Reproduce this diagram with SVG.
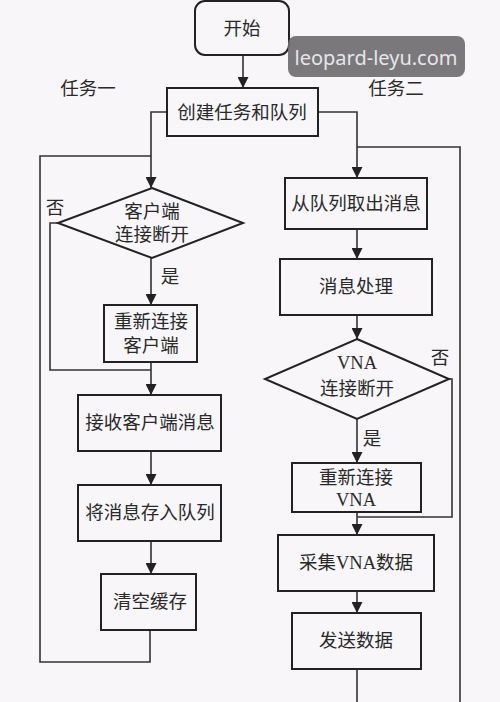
<svg xmlns="http://www.w3.org/2000/svg" width="500" height="702" viewBox="0 0 500 702">
<style>
.bx{fill:none;stroke:#222;stroke-width:2}
.t{font-family:"Liberation Serif","Noto Sans CJK SC",serif;font-size:18.5px;fill:#2a2a2a;text-anchor:middle}
.c{fill:none;stroke:#333;stroke-width:1.6}
</style>
<defs>
<marker id="ar" viewBox="0 0 10 10" refX="10" refY="5" markerWidth="11" markerHeight="11" markerUnits="userSpaceOnUse" orient="auto">
<path d="M0,0 L10,5 L0,10 z" fill="#222"/>
</marker>
</defs>
<rect width="500" height="702" fill="#f8f6f9"/>
<g id="connectors">
<path class="c" d="M243,55 V88" marker-end="url(#ar)"/>
<path class="c" d="M167,112 H151 V188" marker-end="url(#ar)"/>
<path class="c" d="M318,112 H357 V178" marker-end="url(#ar)"/>
<path class="c" d="M151,258 V305" marker-end="url(#ar)"/>
<path class="c" d="M58,223 H50 V370 H151"/>
<path class="c" d="M151,362 V395" marker-end="url(#ar)"/>
<path class="c" d="M151,451 V485" marker-end="url(#ar)"/>
<path class="c" d="M151,541 V574" marker-end="url(#ar)"/>
<path class="c" d="M150,630 V662 H40 V156 H151"/>
<path class="c" d="M357,229 V259" marker-end="url(#ar)"/>
<path class="c" d="M357,315 V339" marker-end="url(#ar)"/>
<path class="c" d="M357,419 V463" marker-end="url(#ar)"/>
<path class="c" d="M449,379 H452 V517 H357"/>
<path class="c" d="M357,512 V535" marker-end="url(#ar)"/>
<path class="c" d="M357,591 V613" marker-end="url(#ar)"/>
<path class="c" d="M357,669 V704 M460,704 V147 H357"/>
</g>
<g id="start"><rect class="bx" x="195" y="1" width="94" height="54" rx="10"/><text class="t" x="242" y="35">开始</text></g>
<g id="create"><rect class="bx" x="167" y="88" width="151" height="48"/><text class="t" x="242" y="119">创建任务和队列</text></g>
<g id="task1"><text class="t" x="88" y="95">任务一</text></g>
<g id="task2"><text class="t" x="396" y="95">任务二</text></g>
<g id="dec1"><polygon class="bx" points="152,188 243,223 152,258 58,223"/><text class="t" x="152" y="218">客户端</text><text class="t" x="152" y="241">连接断开</text></g>
<g id="no1"><text class="t" x="55" y="214">否</text></g>
<g id="yes1"><text class="t" x="170" y="283">是</text></g>
<g id="reconnC"><rect class="bx" x="104" y="305" width="93" height="57"/><text class="t" x="151" y="328">重新连接</text><text class="t" x="151" y="352">客户端</text></g>
<g id="recv"><rect class="bx" x="78" y="395" width="143" height="56"/><text class="t" x="150" y="429">接收客户端消息</text></g>
<g id="store"><rect class="bx" x="78" y="485" width="143" height="56"/><text class="t" x="150" y="519">将消息存入队列</text></g>
<g id="clear"><rect class="bx" x="101" y="574" width="95" height="56"/><text class="t" x="150" y="608">清空缓存</text></g>
<g id="fetch"><rect class="bx" x="285" y="178" width="142" height="51"/><text class="t" x="356" y="210">从队列取出消息</text></g>
<g id="proc"><rect class="bx" x="280" y="259" width="152" height="56"/><text class="t" x="356" y="293">消息处理</text></g>
<g id="dec2"><polygon class="bx" points="357,339 449,379 357,419 265,379"/><text class="t" x="357" y="369">VNA</text><text class="t" x="357" y="395">连接断开</text></g>
<g id="no2"><text class="t" x="440" y="364">否</text></g>
<g id="yes2"><text class="t" x="372" y="445">是</text></g>
<g id="reconnV"><rect class="bx" x="292" y="463" width="129" height="49"/><text class="t" x="356" y="484">重新连接</text><text class="t" x="356" y="506">VNA</text></g>
<g id="collect"><rect class="bx" x="278" y="535" width="156" height="56"/><text class="t" x="356" y="569">采集VNA数据</text></g>
<g id="send"><rect class="bx" x="292" y="613" width="129" height="56"/><text class="t" x="356" y="647">发送数据</text></g>
<g id="watermark"><rect x="288" y="36" width="177" height="41" rx="8" fill="#6f6d70" fill-opacity="0.92"/><text x="376" y="65" font-family="'Noto Sans','Open Sans',sans-serif" font-size="20" fill="#e6e6ea" text-anchor="middle">leopard-leyu.com</text></g>
</svg>
